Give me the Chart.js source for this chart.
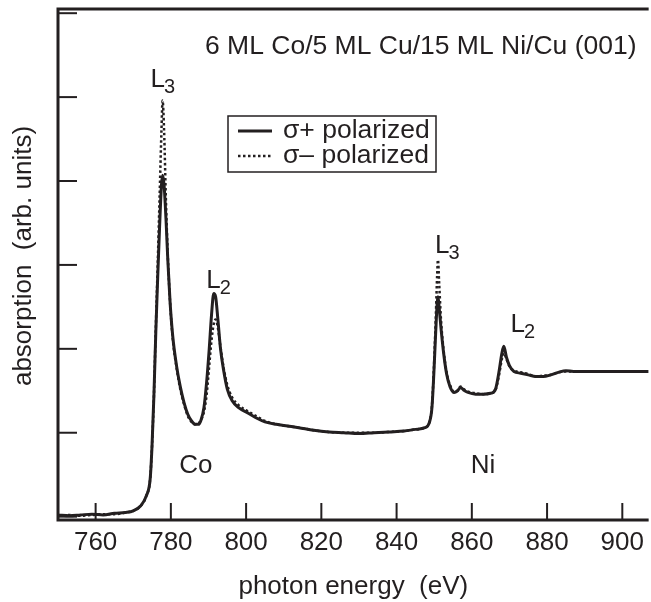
<!DOCTYPE html>
<html lang="en">
<head>
  <meta charset="UTF-8">
  <script src="https://cdn.jsdelivr.net/npm/chart.js"></script>
  <title>Co / Ni L-edge absorption</title>
  <style>
    html, body { margin: 0; padding: 0; background: #fff; }
  </style>
</head>
<body>

  <canvas id="myChart" width="651" height="602"></canvas>

  <script>
    // photon energy (eV)
    const energy = [
      750, 753, 756, 759, 762, 765, 768, 770, 772, 773.5,
      774.5, 775, 775.5, 776, 776.5, 777, 777.5, 777.8, 778.2, 778.7,
      779.2, 779.8, 780.5, 781.5, 782.5, 783.5, 784.5, 785.5, 786.5, 787.3,
      788, 788.8, 789.5, 790.2, 790.8, 791.4, 791.9, 792.5, 793.2, 794,
      795, 796.3, 798, 800.7, 803, 805, 808, 811, 814, 818,
      822, 826, 830, 834, 838, 842, 845, 847.5, 848.7, 849.4,
      849.9, 850.4, 850.8, 851, 851.3, 851.8, 852.5, 853.3, 854.2, 855.3,
      856.2, 857, 857.8, 859, 861, 863, 865, 866.3, 867.2, 868,
      868.5, 869.2, 870, 871.2, 873, 875, 877, 879, 881, 883,
      885, 887, 890, 895, 900, 907
    ];
    // absorption, sigma+ (solid)
    const sigmaPlus = [
      0.02, 0.01, 0.02, 0.03, 0.02, 0.04, 0.05, 0.07, 0.13, 0.25,
      0.45, 0.85, 1.45, 2.20, 2.85, 3.45, 3.95, 4.07, 3.95, 3.55,
      3.05, 2.55, 2.15, 1.80, 1.55, 1.36, 1.22, 1.14, 1.10, 1.10,
      1.15, 1.30, 1.60, 2.00, 2.40, 2.66, 2.62, 2.35, 2.00, 1.75,
      1.52, 1.38, 1.30, 1.23, 1.17, 1.13, 1.10, 1.08, 1.06, 1.03,
      1.01, 1.00, 0.99, 1.00, 1.01, 1.02, 1.04, 1.06, 1.12, 1.30,
      1.70, 2.20, 2.55, 2.62, 2.50, 2.25, 1.95, 1.70, 1.55, 1.48,
      1.50, 1.54, 1.51, 1.48, 1.46, 1.46, 1.47, 1.52, 1.72, 1.95,
      2.03, 1.90, 1.80, 1.73, 1.71, 1.69, 1.67, 1.67, 1.69, 1.72,
      1.74, 1.73, 1.73, 1.73, 1.73, 1.73
    ];
    // absorption, sigma- (dotted)
    const sigmaMinus = [
      0.01, 0.02, 0.01, 0.02, 0.03, 0.03, 0.05, 0.07, 0.13, 0.25,
      0.45, 0.85, 1.45, 2.25, 3.00, 3.80, 4.60, 4.96, 4.60, 3.75,
      3.10, 2.55, 2.12, 1.78, 1.52, 1.34, 1.20, 1.13, 1.10, 1.11,
      1.15, 1.25, 1.45, 1.80, 2.10, 2.30, 2.35, 2.25, 2.02, 1.78,
      1.57, 1.42, 1.33, 1.25, 1.19, 1.14, 1.10, 1.08, 1.06, 1.03,
      1.01, 1.00, 1.00, 1.00, 1.01, 1.02, 1.04, 1.06, 1.12, 1.32,
      1.75, 2.35, 2.90, 3.06, 2.80, 2.35, 1.98, 1.72, 1.57, 1.49,
      1.50, 1.55, 1.52, 1.49, 1.47, 1.46, 1.47, 1.51, 1.68, 1.88,
      1.95, 1.88, 1.79, 1.74, 1.72, 1.70, 1.67, 1.68, 1.69, 1.72,
      1.73, 1.73, 1.73, 1.73, 1.73, 1.73
    ];
    const xTicks = [760, 780, 800, 820, 840, 860, 880, 900];
    const yTicks = [0, 1, 2, 3, 4, 5, 6];
    const seriesNames = ['σ+ polarized', 'σ– polarized'];
    const sampleName = '6 ML Co/5 ML Cu/15 ML Ni/Cu (001)';
    const edgeNames = ['Co', 'Ni'];
    const peakNames = [['L', '3'], ['L', '2'], ['L', '3'], ['L', '2']];
    const xTitle = 'photon energy  (eV)';
    const yTitle = 'absorption  (arb. units)';

    const ink = '#231f20';
    const font = "'Liberation Sans', Arial, Helvetica, sans-serif";

    // axes frame, inward ticks, labels and the boxed legend
    const decor = {
      id: 'decor',
      afterDraw(chart) {
        const ctx = chart.ctx;
        const a = chart.chartArea;
        const xs = chart.scales.x, ys = chart.scales.y;
        ctx.save();
        ctx.strokeStyle = ink;
        ctx.fillStyle = ink;
        ctx.lineWidth = 3;
        ctx.beginPath();
        ctx.moveTo(a.right, a.top); ctx.lineTo(a.left, a.top);
        ctx.lineTo(a.left, a.bottom); ctx.lineTo(a.right, a.bottom);
        ctx.stroke();

        ctx.lineWidth = 2;
        xs.ticks.forEach(t => {
          const px = xs.getPixelForValue(t.value);
          ctx.beginPath(); ctx.moveTo(px, a.bottom); ctx.lineTo(px, a.bottom - 17); ctx.stroke();
        });
        ys.ticks.forEach(t => {
          const py = ys.getPixelForValue(t.value);
          ctx.beginPath(); ctx.moveTo(a.left, py); ctx.lineTo(a.left + 19, py); ctx.stroke();
        });

        // y axis title
        ctx.font = '26px ' + font;
        ctx.textAlign = 'center';
        ctx.textBaseline = 'middle';
        ctx.save();
        ctx.translate(24, 256);
        ctx.rotate(-Math.PI / 2);
        ctx.fillText(yTitle, 0, 0);
        ctx.restore();

        // sample title
        ctx.font = '26.5px ' + font;
        ctx.textBaseline = 'alphabetic';
        ctx.textAlign = 'left';
        ctx.fillText(sampleName, 205, 54);

        // edge names
        ctx.font = '26px ' + font;
        ctx.fillText(edgeNames[0], xs.getPixelForValue(782.2), ys.getPixelForValue(0.52));
        ctx.fillText(edgeNames[1], xs.getPixelForValue(859.7), ys.getPixelForValue(0.52));

        // peak names with subscripts
        const peakAt = [[774.6, 5.12], [789.4, 2.73], [850.2, 3.14], [870.3, 2.2]];
        peakNames.forEach((p, i) => {
          const px = xs.getPixelForValue(peakAt[i][0]);
          const py = ys.getPixelForValue(peakAt[i][1]);
          ctx.font = '26px ' + font;
          ctx.fillText(p[0], px, py);
          const w = ctx.measureText(p[0]).width;
          ctx.font = '20px ' + font;
          ctx.fillText(p[1], px + w - 1, py + 6);
        });

        // legend box
        ctx.lineWidth = 1.5;
        ctx.setLineDash([]);
        ctx.strokeRect(228, 116, 208, 56);
        ctx.font = '26.5px ' + font;
        ctx.textBaseline = 'middle';
        chart.data.datasets.forEach((ds, i) => {
          const y = 131 + i * 25;
          ctx.lineWidth = ds.borderWidth;
          ctx.setLineDash(ds.borderDash || []);
          ctx.beginPath(); ctx.moveTo(238, y); ctx.lineTo(272, y); ctx.stroke();
          ctx.setLineDash([]);
          ctx.fillText(ds.label, 283, y);
        });
        ctx.restore();
      }
    };

    const myChart = new Chart(document.getElementById('myChart'), {
      type: 'line',
      data: {
        datasets: [
          {
            label: seriesNames[0],
            data: energy.map((e, i) => ({ x: e, y: sigmaPlus[i] })),
            borderColor: ink,
            borderWidth: 3,
            pointRadius: 0,
            cubicInterpolationMode: 'monotone'
          },
          {
            label: seriesNames[1],
            data: energy.map((e, i) => ({ x: e, y: sigmaMinus[i] })),
            borderColor: ink,
            borderWidth: 2.5,
            borderDash: [2.5, 2.5],
            pointRadius: 0,
            cubicInterpolationMode: 'monotone'
          }
        ]
      },
      options: {
        responsive: false,
        animation: false,
        devicePixelRatio: 1,
        layout: { padding: { top: 9, right: 0, left: 0, bottom: 0 } },
        plugins: { legend: { display: false }, tooltip: { enabled: false } },
        scales: {
          x: {
            type: 'linear',
            min: 750,
            max: 907,
            afterBuildTicks: s => { s.ticks = xTicks.map(v => ({ value: v })); },
            afterFit: s => { s.height = 82; },
            grid: { display: false, drawTicks: false },
            border: { display: false },
            ticks: { color: ink, font: { family: font, size: 26 }, padding: 7, maxRotation: 0 },
            title: {
              display: true, text: xTitle, color: ink,
              font: { family: font, size: 26 }, padding: { top: 0, bottom: 0 }
            }
          },
          y: {
            type: 'linear',
            min: -0.04,
            max: 6.05,
            afterBuildTicks: s => { s.ticks = yTicks.map(v => ({ value: v })); },
            afterFit: s => { s.width = 58; },
            grid: { display: false, drawTicks: false },
            border: { display: false },
            ticks: { display: false }
          }
        }
      },
      plugins: [decor]
    });
  </script>

</body>
</html>
